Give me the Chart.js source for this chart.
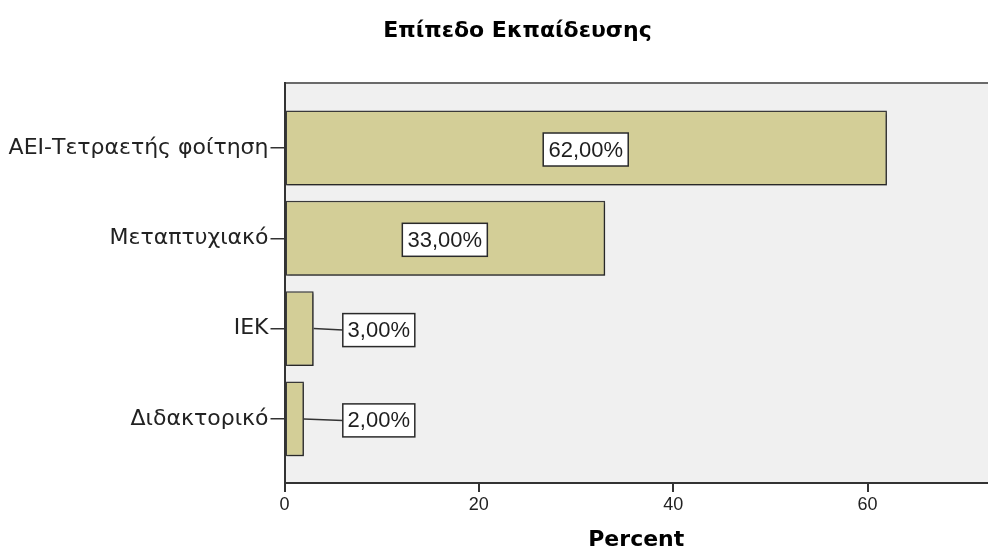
<!DOCTYPE html>
<html>
<head>
<meta charset="utf-8">
<script src="https://cdn.jsdelivr.net/npm/chart.js@4.4.1/dist/chart.umd.min.js"></script>
<style>
  html, body { margin: 0; padding: 0; background: #ffffff; }
  #wrap { width: 988px; height: 551px; }
</style>
</head>
<body>
<div id="wrap"><canvas id="chart" width="988" height="551"></canvas></div>
<script>
// Education level distribution (percent of respondents)
const categories = ['ΑΕΙ-Τετραετής φοίτηση', 'Μεταπτυχιακό', 'ΙΕΚ', 'Διδακτορικό'];
const percents = [62, 33, 3, 2];
const xTicks = [0, 20, 40, 60];

const chartTitle = 'Επίπεδο Εκπαίδευσης';
const xTitle = 'Percent';

const fmtPct = v => v.toFixed(2).replace('.', ',') + '%';

// Grey plot background with a top frame line; title centred a little right of the page centre
const plotFrame = {
  id: 'plotFrame',
  afterLayout(chart) {
    if (chart.titleBlock) {
      chart.titleBlock.left = 47;
    }
  },
  beforeDraw(chart) {
    const { ctx, chartArea: a } = chart;
    ctx.save();
    ctx.fillStyle = '#f0f0f0';
    ctx.fillRect(a.left, a.top, a.right - a.left, a.bottom - a.top);
    ctx.strokeStyle = '#6a6a6a';
    ctx.lineWidth = 2;
    ctx.beginPath();
    ctx.moveTo(a.left, a.top);
    ctx.lineTo(a.right, a.top);
    ctx.stroke();
    ctx.restore();
  }
};

// Soft drop shadow under the bars
const barShadow = {
  id: 'barShadow',
  beforeDatasetsDraw(chart) {
    const ctx = chart.ctx;
    ctx.save();
    ctx.shadowColor = 'rgba(0,0,0,0.45)';
    ctx.shadowOffsetX = 1.5;
    ctx.shadowOffsetY = 1.5;
    ctx.shadowBlur = 2;
  },
  afterDatasetsDraw(chart) {
    chart.ctx.restore();
  }
};

// Boxed value labels: inside the bar when it fits, otherwise to the right with a leader line
const valueBoxes = {
  id: 'valueBoxes',
  afterDatasetsDraw(chart) {
    const { ctx } = chart;
    const xs = chart.scales.x;
    const meta = chart.getDatasetMeta(0);
    const x0 = xs.getPixelForValue(0);
    ctx.save();
    ctx.font = '22px "Liberation Sans", Arial, sans-serif';
    ctx.textAlign = 'center';
    ctx.textBaseline = 'middle';
    meta.data.forEach((bar, i) => {
      const text = fmtPct(percents[i]);
      const tw = ctx.measureText(text).width;
      const bw = Math.round(tw + 10);
      const bh = 33;
      const cy = bar.y + 1.5;
      const len = bar.x - x0;
      let bx;
      if (len > bw + 30) {
        bx = x0 + len / 2 - bw / 2;
      } else {
        bx = xs.getPixelForValue(6);
        ctx.strokeStyle = '#333333';
        ctx.lineWidth = 1.5;
        ctx.beginPath();
        ctx.moveTo(bar.x, bar.y);
        ctx.lineTo(bx, cy);
        ctx.stroke();
      }
      ctx.fillStyle = '#ffffff';
      ctx.fillRect(bx, cy - bh / 2, bw, bh);
      ctx.strokeStyle = '#2a2a2a';
      ctx.lineWidth = 1.5;
      ctx.strokeRect(bx, cy - bh / 2, bw, bh);
      ctx.fillStyle = '#1e1e1e';
      ctx.fillText(text, bx + bw / 2, cy + 1);
    });
    ctx.restore();
  }
};

new Chart(document.getElementById('chart'), {
  type: 'bar',
  data: {
    datasets: [{
      data: percents.map((v, i) => ({ x: v, y: i })),
      backgroundColor: '#d3ce97',
      borderColor: '#3a3a3a',
      borderWidth: 1.5,
      borderSkipped: false,
      barPercentage: 0.83,
      categoryPercentage: 1
    }]
  },
  options: {
    indexAxis: 'y',
    responsive: false,
    devicePixelRatio: 1,
    animation: false,
    events: [],
    layout: { padding: { left: 0, right: 0, top: 0, bottom: 0 } },
    plugins: {
      legend: { display: false },
      tooltip: { enabled: false },
      title: {
        display: true,
        text: chartTitle,
        color: '#000000',
        font: { family: '"DejaVu Sans", sans-serif', size: 22, weight: 'bold', lineHeight: 1.2 },
        padding: { top: 18, bottom: 38.6 }
      }
    },
    scales: {
      x: {
        type: 'linear',
        position: 'bottom',
        min: 0,
        max: 72.4,
        afterBuildTicks: s => { s.ticks = xTicks.map(v => ({ value: v })); },
        ticks: {
          color: '#222222',
          padding: 2,
          font: { family: '"Liberation Sans", Arial, sans-serif', size: 18 }
        },
        grid: { drawOnChartArea: false, drawTicks: true, tickLength: 9, color: '#333333', lineWidth: 2 },
        border: { display: true, color: '#333333', width: 2 },
        title: {
          display: true,
          text: xTitle,
          color: '#000000',
          font: { family: '"DejaVu Sans", sans-serif', size: 22, weight: 'bold', lineHeight: 1 },
          padding: { top: 0, bottom: 0 }
        },
        afterFit: s => { s.height = 68; }
      },
      y: {
        type: 'linear',
        reverse: true,
        offset: false,
        min: -0.72,
        max: 3.71,
        afterBuildTicks: s => { s.ticks = categories.map((_, i) => ({ value: i })); },
        ticks: {
          color: '#222222',
          padding: 2,
          font: { family: '"DejaVu Sans", sans-serif', size: 22 },
          callback: v => categories[v]
        },
        grid: { offset: false, drawOnChartArea: false, drawTicks: true, tickLength: 14, color: '#333333', lineWidth: 1.5 },
        border: { display: true, color: '#333333', width: 2 },
        afterFit: s => { s.width = 284.5; }
      }
    }
  },
  plugins: [plotFrame, barShadow, valueBoxes]
});
</script>
</body>
</html>
